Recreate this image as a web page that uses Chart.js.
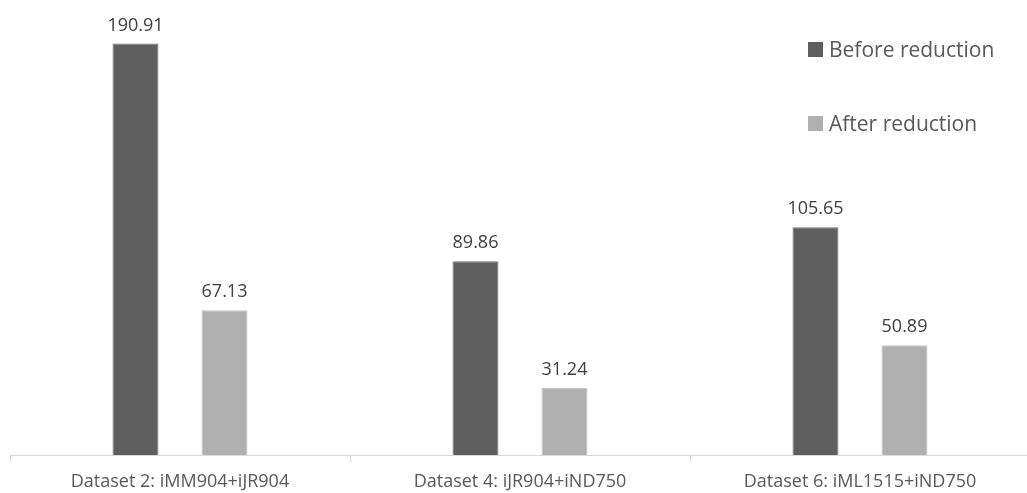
<!DOCTYPE html>
<html>
<head>
<meta charset="utf-8">
<script src="https://cdn.jsdelivr.net/npm/chart.js@4.4.1/dist/chart.umd.min.js"></script>
<style>
  html, body { margin: 0; padding: 0; background: #ffffff; overflow: hidden; }
  #wrap { width: 1030px; height: 493px; position: relative; }
</style>
</head>
<body>
<div id="wrap"><canvas id="c"></canvas></div>
<script>
// Reconstruction time per dataset pair, before and after model reduction
const categories = ['Dataset 2: iMM904+iJR904', 'Dataset 4: iJR904+iND750', 'Dataset 6: iML1515+iND750'];
const beforeReduction = [190.91, 89.86, 105.65];
const afterReduction = [67.13, 31.24, 50.89];
const seriesNames = ['Before reduction', 'After reduction'];

const FONT = '"Open Sans", "Noto Sans", sans-serif';

// Value labels above each bar
const valueLabels = {
  id: 'valueLabels',
  afterDatasetsDraw(chart) {
    const ctx = chart.ctx;
    ctx.save();
    ctx.font = '18px ' + FONT;
    ctx.fillStyle = '#404040';
    ctx.textAlign = 'center';
    ctx.textBaseline = 'alphabetic';
    chart.data.datasets.forEach((ds, i) => {
      chart.getDatasetMeta(i).data.forEach((bar, j) => {
        ctx.fillText(ds.data[j].toFixed(2), bar.x, bar.y - 13);
      });
    });
    ctx.restore();
  }
};

// Vertical legend in the upper right corner
const sideLegend = {
  id: 'sideLegend',
  afterDraw(chart) {
    const ctx = chart.ctx;
    ctx.save();
    ctx.font = '21px ' + FONT;
    ctx.textBaseline = 'alphabetic';
    ctx.textAlign = 'left';
    chart.data.datasets.forEach((ds, i) => {
      const y = 49 + i * 74;
      ctx.fillStyle = ds.backgroundColor;
      ctx.fillRect(808, y - 7, 15, 15);
      ctx.fillStyle = '#595959';
      ctx.fillText(ds.label, 829, y + 7.5);
    });
    ctx.restore();
  }
};

new Chart(document.getElementById('c'), {
  type: 'bar',
  data: {
    labels: categories,
    datasets: [
      { label: seriesNames[0], data: beforeReduction, backgroundColor: '#5e5e5e', borderColor: '#767676', borderWidth: 1 },
      { label: seriesNames[1], data: afterReduction, backgroundColor: '#b0b0b0', borderColor: '#c4c4c4', borderWidth: 1 }
    ]
  },
  options: {
    responsive: true,
    maintainAspectRatio: false,
    animation: false,
    categoryPercentage: 0.5235,
    barPercentage: 0.517,
    layout: { padding: { left: 10, right: 0, top: 24, bottom: 0 } },
    plugins: {
      legend: { display: false },
      tooltip: { enabled: false }
    },
    scales: {
      x: {
        afterFit(scale) { scale.height = 38; },
        grid: { display: true, drawOnChartArea: false, drawTicks: true, tickLength: 7, color: '#d9d9d9', offset: true },
        border: { display: true, color: '#d9d9d9', width: 1 },
        ticks: { color: '#595959', font: { family: FONT, size: 18 }, padding: 9, maxRotation: 0, autoSkip: false }
      },
      y: {
        display: false,
        min: 0,
        max: 200
      }
    }
  },
  plugins: [valueLabels, sideLegend]
});
</script>
</body>
</html>
